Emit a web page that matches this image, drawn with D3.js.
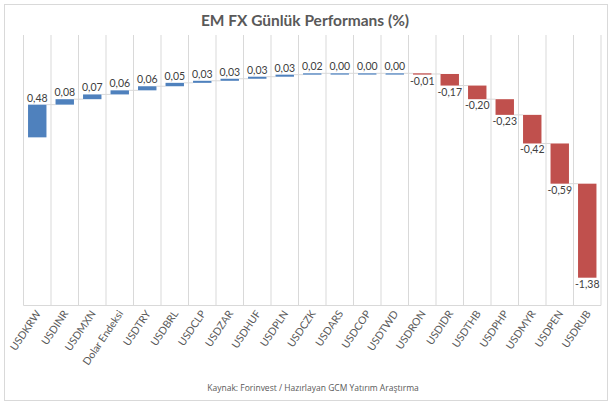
<!DOCTYPE html>
<html>
<head>
<meta charset="utf-8">
<script src="https://cdn.jsdelivr.net/npm/d3@7"></script>
<style>
  html, body { margin: 0; padding: 0; background: #fff; }
  svg { display: block; }
</style>
</head>
<body>
<svg id="chart" width="612" height="405"></svg>
<script>
const categories = ['USDKRW', 'USDINR', 'USDMXN', 'Dolar Endeksi', 'USDTRY', 'USDBRL', 'USDCLP',
  'USDZAR', 'USDHUF', 'USDPLN', 'USDCZK', 'USDARS', 'USDCOP', 'USDTWD', 'USDRON', 'USDIDR',
  'USDTHB', 'USDPHP', 'USDMYR', 'USDPEN', 'USDRUB'];
const values = [0.48, 0.08, 0.07, 0.06, 0.06, 0.05, 0.03, 0.03, 0.03, 0.03, 0.02, 0.00, 0.00, 0.00,
  -0.01, -0.17, -0.20, -0.23, -0.42, -0.59, -1.38];
const title = 'EM FX Günlük Performans (%)';
const source = 'Kaynak: Forinvest / Hazırlayan GCM Yatırım Araştırma';

const svg = d3.select('#chart');
const W = 612, H = 405;

// outer frame
svg.append('rect')
  .attr('x', 4.5).attr('y', 4.5)
  .attr('width', W - 9).attr('height', H - 9)
  .attr('fill', '#fff')
  .attr('stroke', '#d9d9d9');

svg.append('text')
  .attr('x', 305).attr('y', 25.5)
  .attr('text-anchor', 'middle')
  .attr('font-family', 'Lato, sans-serif')
  .attr('font-weight', 'bold')
  .attr('font-size', 15.5)
  .attr('fill', '#595959')
  .text(title);

// floating bars: positives pile downward to the left, negatives downward to the right
const data = categories.map((c, i) => {
  const v = values[i];
  let top;
  if (v >= 0) {
    top = d3.sum(values.filter((w, j) => j > i && w >= 0));
  } else {
    top = d3.sum(values.filter((w, j) => j < i && w < 0), w => -w);
  }
  return { cat: c, v, top, bottom: top + Math.abs(v) };
});

const total = d3.sum(values.filter(v => v < 0), v => -v);

const plotTop = 35, plotBottom = 305.5;
const x = d3.scaleBand()
  .domain(categories)
  .range([23.5, 601])
  .paddingInner(0.33)
  .paddingOuter(0.165);

const y = d3.scaleLinear()
  .domain([0, total])
  .range([73.3, 277.7]);

const step = x.step();
const x0 = x.range()[0];

const g = svg.append('g');

// vertical gridlines between categories
g.selectAll('.grid')
  .data(d3.range(categories.length + 1))
  .enter().append('line')
  .attr('x1', i => x0 + i * step).attr('x2', i => x0 + i * step)
  .attr('y1', plotTop).attr('y2', plotBottom)
  .attr('stroke', '#d9d9d9').attr('stroke-width', 1);

g.append('line')
  .attr('x1', x0).attr('x2', x.range()[1])
  .attr('y1', plotBottom).attr('y2', plotBottom)
  .attr('stroke', '#d9d9d9').attr('stroke-width', 1);

// connectors
g.selectAll('.conn')
  .data(data.slice(0, -1))
  .enter().append('line')
  .attr('x1', d => x(d.cat) + x.bandwidth())
  .attr('x2', d => x(d.cat) + step)
  .attr('y1', d => y(d.v >= 0 ? d.top : d.bottom))
  .attr('y2', d => y(d.v >= 0 ? d.top : d.bottom))
  .attr('stroke', '#d9d9d9').attr('stroke-width', 1);

g.selectAll('.bar')
  .data(data)
  .enter().append('rect')
  .attr('x', d => x(d.cat))
  .attr('width', x.bandwidth())
  .attr('y', d => y(d.top))
  .attr('height', d => Math.max(1.3, y(d.bottom) - y(d.top)))
  .attr('fill', d => d.v >= 0 ? '#4f81bd' : '#c0504d');

const fmt = v => v.toFixed(2).replace('.', ',');

g.selectAll('.label')
  .data(data)
  .enter().append('text')
  .attr('x', d => x(d.cat) + x.bandwidth() / 2)
  .attr('y', d => d.v >= 0 ? y(d.top) - 3 : Math.max(y(d.bottom), y(d.top) + 1.3) + 10)
  .attr('text-anchor', 'middle')
  .attr('font-family', 'Lato, sans-serif')
  .attr('font-size', 10.5)
  .attr('fill', '#404040')
  .text(d => fmt(d.v));

// category labels
g.selectAll('.cat')
  .data(categories)
  .enter().append('text')
  .attr('transform', c => `translate(${x(c) + x.bandwidth() / 2 + 4},${plotBottom + 8}) rotate(-56)`)
  .attr('text-anchor', 'end')
  .attr('font-family', 'Lato, sans-serif')
  .attr('font-size', 10.5)
  .attr('fill', '#595959')
  .text(c => c);

svg.append('text')
  .attr('x', 313).attr('y', 391)
  .attr('text-anchor', 'middle')
  .attr('font-family', '"Open Sans", sans-serif')
  .attr('font-size', 8.5)
  .attr('fill', '#595959')
  .text(source);
</script>
</body>
</html>
